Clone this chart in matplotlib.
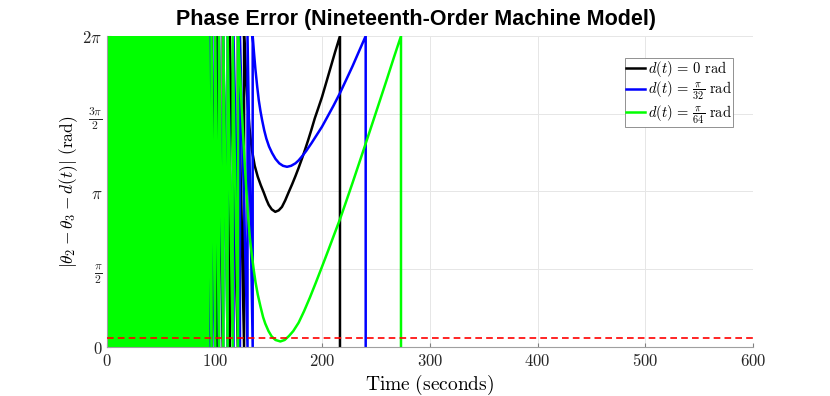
import numpy as np
import matplotlib
matplotlib.use("Agg")
import matplotlib.pyplot as plt

plt.rcParams['mathtext.fontset'] = 'cm'

TWO_PI = 2 * np.pi
threshold = np.pi / 18

# sawtooth jump times (rad wraps from 0 back to 2*pi); first entry = end of the solid band
black_teeth = [92, 97, 102.5, 107.5, 114, 121.5, 127.3]
blue_teeth = [93, 96, 100, 104, 108, 112, 117.5, 123.5, 130.5, 135.3]
green_teeth = [94, 97, 100.5, 104, 108, 112, 116.7, 121.7]

# smooth tail after the last slip (wrapped phase error, rad)
black_tail_t = [128.5, 130.3, 132.2, 134.5, 137.2, 140, 142.8, 145.5, 148, 150.2, 153,
                156.3, 159.5, 162.5, 165.5, 168.7, 172, 175, 178, 181, 184, 187, 190,
                193, 196.3, 199.7, 204, 208, 212, 216.4]
black_tail_y = [5.73, 5.02, 4.45, 3.99, 3.66, 3.44, 3.27, 3.125, 2.98, 2.87, 2.78,
                2.73, 2.76, 2.83, 2.96, 3.125, 3.29, 3.45, 3.62, 3.8, 3.99, 4.19, 4.4,
                4.62, 4.83, 5.05, 5.37, 5.67, 5.97, 6.283]

blue_tail_t = [136.5, 137.8, 139.5, 141, 142.5, 144, 146, 148, 150.5, 153.3, 156.5, 160,
               163.5, 167.2, 171, 175, 178, 181.1, 185, 190, 195, 199.7, 205, 210.5,
               216.4, 222, 228, 234, 240.3]
blue_tail_y = [5.95, 5.62, 5.26, 4.98, 4.77, 4.59, 4.38, 4.21, 4.05, 3.92, 3.8, 3.71,
               3.66, 3.64, 3.66, 3.71, 3.77, 3.85, 3.96, 4.12, 4.29, 4.45, 4.66, 4.88,
               5.13, 5.39, 5.67, 5.97, 6.283]

green_tail_t = [123, 124.5, 126, 127.5, 129.3, 131, 132.7, 134.5, 136.2, 138, 140,
                142.5, 145, 147, 150, 153, 156.5, 161, 165, 169, 173, 178, 183,
                188.5, 194, 199.7, 205.5, 211, 216.4, 222, 228, 234, 240.3, 247, 253.5,
                260, 266.5, 273.1]
green_tail_y = [5.75, 5.1, 4.45, 3.85, 3.2, 2.65, 2.2, 1.86, 1.57, 1.3, 1.06,
                0.82, 0.6, 0.47, 0.32, 0.21, 0.14, 0.11, 0.14, 0.22, 0.32, 0.49, 0.72,
                1.0, 1.3, 1.62, 1.95, 2.27, 2.58, 2.93, 3.31, 3.7, 4.11, 4.55, 4.98,
                5.41, 5.85, 6.283]

labels = [r'$d(t)\,=\,0\ \mathrm{rad}$',
          r'$d(t)\,=\,\frac{\pi}{32}\ \mathrm{rad}$',
          r'$d(t)\,=\,\frac{\pi}{64}\ \mathrm{rad}$']
colors = ['#000000', '#0000ff', '#00ff00']

x_ticks = [0, 100, 200, 300, 400, 500, 600]
y_ticks = [0, np.pi / 2, np.pi, 3 * np.pi / 2, 2 * np.pi]
y_ticklabels = [r'$0$', r'$\frac{\pi}{2}$', r'$\pi$', r'$\frac{3\pi}{2}$', r'$2\pi$']


def build_series(teeth, tail_t, tail_y):
    xs, ys = [], []
    for t in teeth:
        xs += [t, t]
        ys += [0, TWO_PI]
    xs += list(tail_t) + [tail_t[-1]]
    ys += list(tail_y) + [0]
    return xs, ys


fig = plt.figure(figsize=(8.3, 3.96), dpi=100)
ax = fig.add_axes([0.129, 0.124, 0.778, 0.785])

series = [(black_teeth, black_tail_t, black_tail_y),
          (blue_teeth, blue_tail_t, blue_tail_y),
          (green_teeth, green_tail_t, green_tail_y)]

for (teeth, tt, ty), c, lab in zip(series, colors, labels):
    # oscillation is too fast to resolve before the first tooth -> solid band
    ax.fill_between([0, teeth[0]], 0, TWO_PI, color=c, lw=0, zorder=2)
    xs, ys = build_series(teeth, tt, ty)
    ax.plot(xs, ys, color=c, lw=1.8, label=lab, zorder=2)

ax.axhline(threshold, color='#ff0000', ls=(0, (4, 2.5)), lw=1.2, zorder=3)

ax.set_xlim(0, 600)
ax.set_ylim(0, TWO_PI)
ax.set_xticks(x_ticks)
ax.set_xticklabels([f'${v}$' for v in x_ticks], fontsize=12)
ax.set_yticks(y_ticks)
ax.set_yticklabels(y_ticklabels, fontsize=12)
ax.tick_params(direction='in', length=3, color='#808080', labelcolor='#262626')

ax.grid(True, color='#e6e6e6', lw=0.7)
ax.set_axisbelow(True)
for s in ['top', 'right']:
    ax.spines[s].set_visible(False)
for s in ['left', 'bottom']:
    ax.spines[s].set_color('#a0a0a0')
    ax.spines[s].set_linewidth(0.8)

ax.set_xlabel(r'$\mathrm{Time\ (seconds)}$', fontsize=14, labelpad=2)
ax.set_ylabel(r'$|\theta_2 - \theta_3 - d(t)|\ (\mathrm{rad})$', fontsize=12.5, labelpad=2)
ax.set_title('Phase Error (Nineteenth-Order Machine Model)', fontsize=15.5,
             fontweight='bold', family='Liberation Sans', pad=8, x=0.478)

leg = ax.legend(loc='upper right', bbox_to_anchor=(0.97, 0.93), fontsize=10.5,
                handlelength=1.3, handletextpad=0.2, borderpad=0.1,
                labelspacing=0.05, borderaxespad=0, fancybox=False, framealpha=1)
leg.get_frame().set_edgecolor('#808080')
leg.get_frame().set_linewidth(0.6)

fig.savefig('out.png', dpi=100)
